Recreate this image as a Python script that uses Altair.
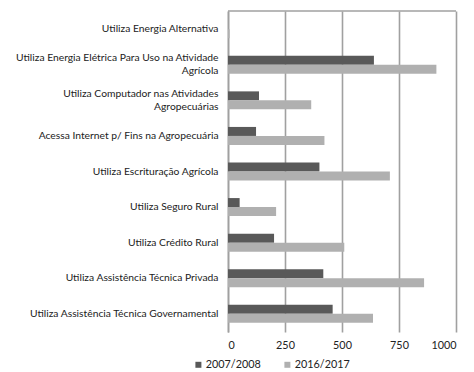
import altair as alt
import pandas as pd

categories = [
    "Utiliza Energia Alternativa",
    "Utiliza Energia Elétrica Para Uso na Atividade Agrícola",
    "Utiliza Computador nas Atividades Agropecuárias",
    "Acessa Internet p/ Fins na Agropecuária",
    "Utiliza Escrituração Agrícola",
    "Utiliza Seguro Rural",
    "Utiliza Crédito Rural",
    "Utiliza Assistência Técnica Privada",
    "Utiliza Assistência Técnica Governamental",
]
NB = "\u00a0"
wrapped = {
    "Utiliza Energia Elétrica Para Uso na Atividade Agrícola": ["Utiliza Energia Elétrica Para Uso na Atividade", "Agrícola" + NB * 40],
    "Utiliza Computador nas Atividades Agropecuárias": ["Utiliza Computador nas Atividades", "Agropecuárias" + NB * 21],
}
series = ["2007/2008", "2016/2017"]
v2007 = [0, 640, 136, 123, 401, 51, 202, 418, 459]
v2016 = [7, 914, 365, 423, 710, 211, 510, 860, 636]
x_ticks = [0, 250, 500, 750, 1000]
colors = ["#595959", "#b0b0b0"]

rows = []
for c, a, b in zip(categories, v2007, v2016):
    rows.append({"cat": c, "serie": series[0], "val": a})
    rows.append({"cat": c, "serie": series[1], "val": b})
df = pd.DataFrame(rows)

expr = "datum.label"
for k, lines in wrapped.items():
    arr = "[" + ",".join("'" + l + "'" for l in lines) + "]"
    expr = f"datum.label == '{k}' ? {arr} : ({expr})"
wrapped_list = "[" + ",".join("'" + k + "'" for k in wrapped) + "]"

FONT = "Lato"
FS = 10.3
GRID = "#a0a0a0"
W, H = 228, 321

bars = alt.Chart(df).mark_bar().encode(
    x=alt.X("val:Q", scale=alt.Scale(domain=[0, 1000], nice=False),
            axis=alt.Axis(values=x_ticks, format="d", title=None, grid=True, gridColor=GRID,
                          gridWidth=1.6, domain=False, ticks=False, labelPadding=7,
                          labelFontSize=10.8, labelColor="#222", labelFont=FONT)),
    y=alt.Y("cat:N", sort=categories,
            scale=alt.Scale(paddingInner=0.494, paddingOuter=0.26),
            axis=alt.Axis(title=None, ticks=False, domainColor=GRID, domainWidth=1.6,
                          labelFontSize=FS, labelColor="#222", labelFont=FONT,
                          labelPadding=10, labelLimit=400, labelExpr=expr, labelLineHeight=13,
                          labelOffset={"condition": {"test": f"indexof({wrapped_list}, datum.value) >= 0",
                                                     "value": -6.5}, "value": 0})),
    yOffset=alt.YOffset("serie:N", sort=series),
    color=alt.Color("serie:N", sort=series, scale=alt.Scale(domain=series, range=colors),
                    legend=alt.Legend(title=None, orient="none", direction="horizontal",
                                      legendX=-35, legendY=348, symbolType="square",
                                      symbolSize=36, symbolStrokeWidth=0, labelFont=FONT,
                                      labelFontSize=10.8, labelColor="#222", labelOffset=2,
                                      columnPadding=21)),
)

top = alt.Chart(pd.DataFrame({"a": [0]})).mark_rule(color=GRID, strokeWidth=1.6).encode(
    x=alt.value(0), x2=alt.value(W), y=alt.value(0)
)

chart = alt.layer(bars, top).properties(
    width=W, height=H, padding={"left": 7, "top": 2, "right": 5, "bottom": 2}
).configure_view(stroke=None)

chart.save("out.html", embed_options={"renderer": "svg", "actions": False})
